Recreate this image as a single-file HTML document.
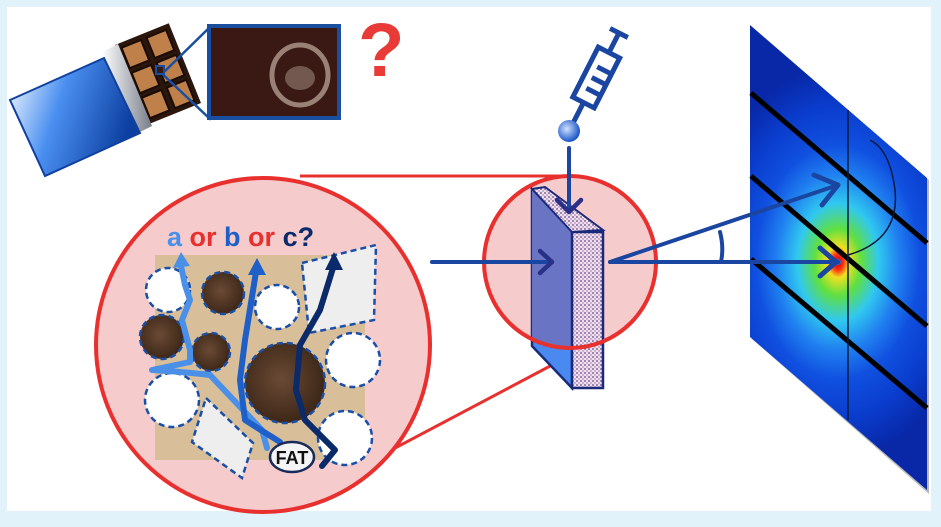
<!DOCTYPE html>
<html><head><meta charset="utf-8"><style>
html,body{margin:0;padding:0;background:#e1f2fa;}
svg{display:block;}
</style></head><body>
<svg width="941" height="527" viewBox="0 0 941 527" xmlns="http://www.w3.org/2000/svg">
<defs>
<linearGradient id="wrap" x1="0" y1="0" x2="1" y2="0.3">
<stop offset="0" stop-color="#ffffff"/><stop offset="0.45" stop-color="#4a8ff0"/><stop offset="1" stop-color="#0c3fa0"/>
</linearGradient>
<linearGradient id="foil" x1="0" y1="0" x2="1" y2="0">
<stop offset="0" stop-color="#ffffff"/><stop offset="1" stop-color="#777d88"/>
</linearGradient>
<radialGradient id="det" cx="838" cy="262" r="170" gradientUnits="userSpaceOnUse" gradientTransform="translate(838 262) scale(0.8 1.15) translate(-838 -262)">
<stop offset="0" stop-color="#c00010"/><stop offset="0.04" stop-color="#ff3010"/><stop offset="0.08" stop-color="#f0e020"/>
<stop offset="0.17" stop-color="#60e040"/><stop offset="0.3" stop-color="#30c8f0"/><stop offset="0.45" stop-color="#2080f0"/>
<stop offset="0.6" stop-color="#1050e0"/><stop offset="0.8" stop-color="#0a3ccc"/><stop offset="1" stop-color="#0828a8"/>
</radialGradient>
<radialGradient id="drop" cx="0.4" cy="0.4" r="0.6"><stop offset="0" stop-color="#cfe2ff"/><stop offset="1" stop-color="#1a55c8"/></radialGradient>
<radialGradient id="brown" cx="0.45" cy="0.45" r="0.6"><stop offset="0" stop-color="#6a4a35"/><stop offset="1" stop-color="#3a2415"/></radialGradient>
<pattern id="speck" width="4" height="4" patternUnits="userSpaceOnUse">
<rect width="4" height="4" fill="#f3dde8"/><circle cx="1" cy="1" r="0.9" fill="#5a4a90"/><circle cx="3" cy="3" r="0.7" fill="#8070b0"/>
</pattern>
<clipPath id="smallc"><circle cx="570" cy="262" r="86"/></clipPath>
</defs>
<rect x="7" y="7" width="924" height="504" fill="#ffffff"/>

<!-- chocolate bar -->
<g transform="translate(115,45) rotate(-22)">
<rect x="0" y="0" width="58" height="86" fill="#2a160c"/>
<g fill="#c0804a" stroke="#1a0c05" stroke-width="2">
<rect x="5" y="5" width="21" height="22"/><rect x="32" y="5" width="21" height="22"/>
<rect x="5" y="32" width="21" height="22"/><rect x="32" y="32" width="21" height="22"/>
<rect x="5" y="59" width="21" height="22"/><rect x="32" y="59" width="21" height="22"/>
</g>
</g>
<polygon points="102,52 118,44 152,126 138,133" fill="url(#foil)"/>
<polygon points="10,100 104,58 140,133 45,176" fill="url(#wrap)" stroke="#1040a0" stroke-width="2"/>
<!-- zoom lines -->
<polygon points="156,68 164,72 209,28 209,118" fill="none" stroke="#1a4fa0" stroke-width="2.5"/>
<rect x="156" y="66" width="8" height="8" fill="#3a1a10" stroke="#1a4fa0" stroke-width="2"/>
<rect x="209" y="26" width="130" height="92" fill="#3a1814" stroke="#1a4fa0" stroke-width="4"/>
<ellipse cx="300" cy="75" rx="28" ry="30" fill="none" stroke="#d8c8b8" stroke-width="5" opacity="0.6"/>
<ellipse cx="300" cy="78" rx="15" ry="12" fill="#c8b8a8" opacity="0.4"/>
<text x="358" y="76" font-family="Liberation Sans, sans-serif" font-weight="bold" font-size="76" fill="#e83a36">?</text>

<!-- red connectors -->
<line x1="300" y1="176" x2="570" y2="176" stroke="#e8302e" stroke-width="3"/>
<line x1="380" y1="456" x2="605" y2="337" stroke="#e8302e" stroke-width="3"/>

<!-- big circle -->
<circle cx="263" cy="345" r="167" fill="#f6cbcc" stroke="#e8302e" stroke-width="4"/>
<rect x="155" y="255" width="210" height="205" fill="#d8bf9a"/>
<text x="167" y="246" font-family="Liberation Sans, sans-serif" font-weight="bold" font-size="27"><tspan fill="#4a90e8">a</tspan><tspan fill="#e8302e"> or </tspan><tspan fill="#1e5fc8">b</tspan><tspan fill="#e8302e"> or </tspan><tspan fill="#0a2a6a">c?</tspan></text>
<g stroke="#1a4fa8" stroke-width="2.5" stroke-dasharray="6,4">
<polygon points="302,263 376,245 374,320 309,333" fill="#eeeeee"/>
<polygon points="206,398 253,443 242,478 192,442" fill="#eeeeee"/>
<circle cx="168" cy="290" r="22" fill="#fff"/>
<circle cx="277" cy="307" r="22" fill="#fff"/>
<circle cx="353" cy="360" r="27" fill="#fff"/>
<circle cx="172" cy="400" r="27" fill="#fff"/>
<circle cx="345" cy="438" r="27" fill="#fff"/>
<circle cx="223" cy="293" r="21" fill="url(#brown)"/>
<circle cx="162" cy="337" r="22" fill="url(#brown)"/>
<circle cx="211" cy="352" r="19" fill="url(#brown)"/>
<circle cx="285" cy="383" r="40" fill="url(#brown)"/>
</g>
<g fill="none" stroke-width="6" stroke-linecap="round" stroke-linejoin="round">
<path d="M267,448 L262,430 L210,375 Q185,372 152,370 L190,362 L190,350 L182,320 L190,300 L185,285 L181,266" stroke="#4a90e8"/>
<path d="M280,442 L245,420 L240,380 L245,340 L256,272" stroke="#1e5fc8"/>
<path d="M322,466 L335,450 L305,420 L296,390 L300,345 L320,310 L333,268" stroke="#0a2a6a"/>
</g>
<polygon points="181,252 173,268 190,266" fill="#4a90e8"/>
<polygon points="257,258 248,275 266,275" fill="#1e5fc8"/>
<polygon points="334,252 325,270 343,270" fill="#0a2a6a"/>
<ellipse cx="292" cy="457" rx="22" ry="15" fill="#f4f4f4" stroke="#1a2a5a" stroke-width="2.5"/>
<text x="292" y="464" text-anchor="middle" font-family="Liberation Sans, sans-serif" font-weight="bold" font-size="18" fill="#111">FAT</text>

<!-- detector -->
<polygon points="752,27 929,180 929,494 752,339" fill="#b8b8b8"/>
<polygon points="750,25 927,178 927,490 750,337" fill="url(#det)"/>
<g stroke="#000" stroke-width="5">
<line x1="751" y1="93" x2="927" y2="243"/>
<line x1="751" y1="176" x2="927" y2="326"/>
<line x1="751" y1="259" x2="927" y2="408"/>
</g>
<line x1="848" y1="110" x2="848" y2="420" stroke="#0a1a40" stroke-width="1.5"/>
<path d="M848,255 Q900,240 895,190 Q890,150 870,140" fill="none" stroke="#0a1a40" stroke-width="1.5"/>
<circle cx="838" cy="262" r="3" fill="#4060c0"/>

<!-- small circle -->
<circle cx="570" cy="262" r="86" fill="#f6cbcc"/>
<!-- slab -->
<polygon points="532,189 572,232 572,388 532,346" fill="#4a8af0" stroke="#1a2a7a" stroke-width="2.5"/>
<polygon points="532,189 572,232 572,388 532,346" fill="#6a74c4" clip-path="url(#smallc)"/>
<polygon points="572,232 603,232 603,388 572,388" fill="url(#speck)" stroke="#1a2a7a" stroke-width="2.5"/>
<polygon points="532,189 545,187 603,230 572,232" fill="url(#speck)" stroke="#1a2a7a" stroke-width="2"/>
<circle cx="570" cy="262" r="86" fill="none" stroke="#e8302e" stroke-width="4"/>

<!-- syringe -->
<g transform="translate(569,131) rotate(-63)" fill="none" stroke="#1a45a0" stroke-width="5">
<line x1="0" y1="0" x2="32" y2="0"/>
<rect x="32" y="-12" width="56" height="24"/>
<line x1="46" y1="-4" x2="46" y2="12"/><line x1="58" y1="-4" x2="58" y2="12"/><line x1="70" y1="-4" x2="70" y2="12"/>
<line x1="88" y1="0" x2="110" y2="0"/><line x1="110" y1="-10" x2="110" y2="10"/>
</g>
<circle cx="569" cy="131" r="11" fill="url(#drop)"/>
<g stroke="#1a45a0" stroke-width="4" fill="none" stroke-linecap="round">
<line x1="569" y1="148" x2="569" y2="210"/>
<line x1="432" y1="262" x2="552" y2="262"/>
<line x1="610" y1="262" x2="838" y2="262"/>
<line x1="610" y1="262" x2="838" y2="185"/>
<path d="M720,232 Q724,247 721,262"/>
</g>
<g stroke="#2a3088" stroke-width="4.5" fill="none" stroke-linecap="round" stroke-linejoin="round">
<polyline points="557,200 569,212 581,200"/>
<polyline points="540,251 552,262 540,273"/>
</g>
<g stroke="#1a45a0" stroke-width="5" fill="none" stroke-linecap="round" stroke-linejoin="round">
<polyline points="814,175 838,185 822,205"/>
<polyline points="820,248 836,262 820,276"/>
</g>
</svg>
</body></html>
